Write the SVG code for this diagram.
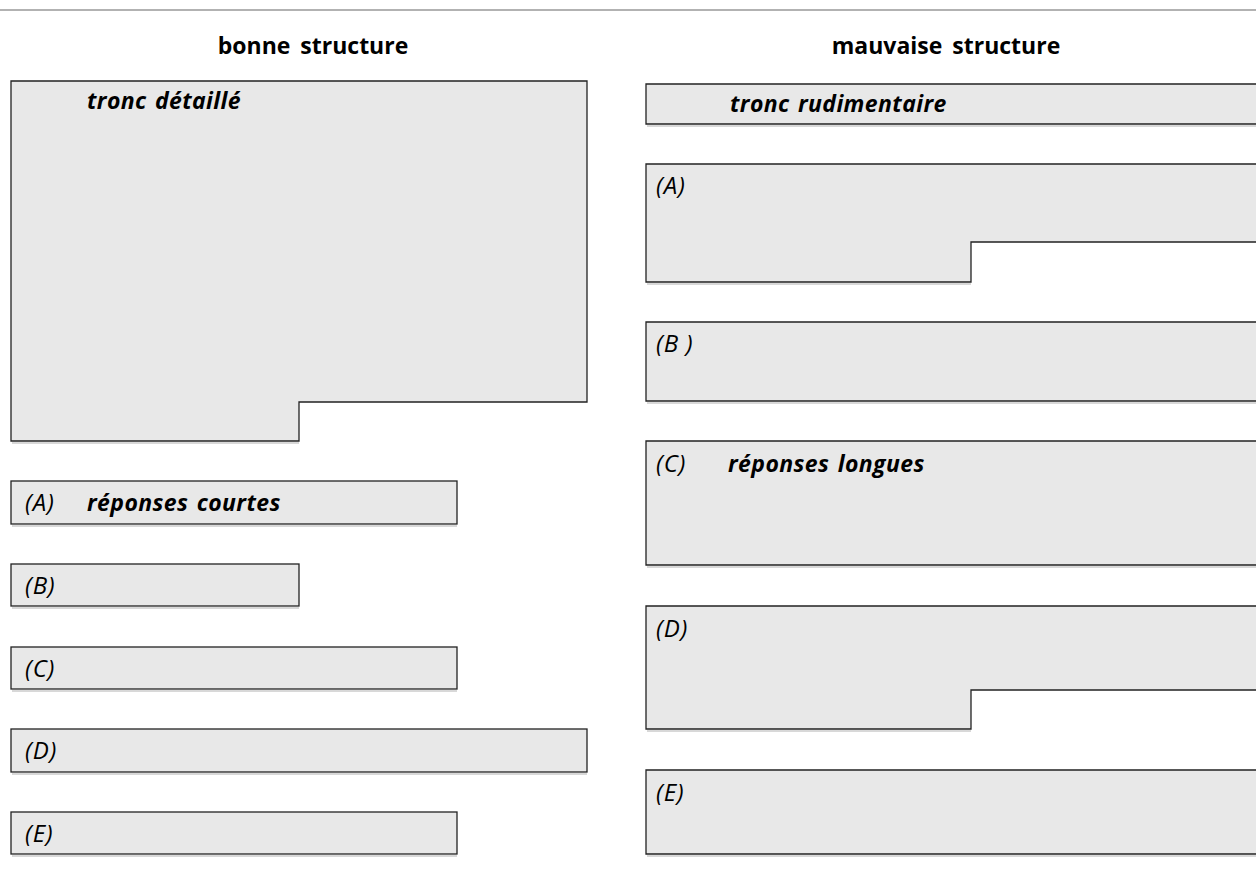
<svg xmlns="http://www.w3.org/2000/svg" width="1256" height="889" viewBox="0 0 1256 889">
<style>
.box{fill:#e8e8e8;stroke:#222;stroke-width:1.3}
.sh{fill:none;stroke:#d8d8d8;stroke-width:2}
.h{font-family:"Open Sans","Noto Sans",sans-serif;font-weight:bold;font-size:23px;fill:#000;word-spacing:4px}
.t{font-family:"Open Sans","Noto Sans",sans-serif;font-weight:bold;font-style:italic;font-size:23px;letter-spacing:0.4px;fill:#000;word-spacing:2px}
.l{font-family:"Open Sans","Noto Sans",sans-serif;font-style:italic;font-size:24px;letter-spacing:0.8px;fill:#000}
</style>
<rect width="1256" height="889" fill="#fff"/>
<line x1="0" y1="10" x2="1256" y2="10" stroke="#666" stroke-width="1.2"/>
<text class="h" x="313" y="54" text-anchor="middle">bonne structure</text>
<text class="h" x="946" y="54" text-anchor="middle">mauvaise structure</text>

<g id="left-trunk">
<path class="sh" d="M12,443 H299"/>
<path class="box" d="M11,81 H587 V402 H299 V441 H11 Z"/>
<text class="t" x="87" y="109">tronc détaillé</text>
</g>
<g id="left-A">
<path class="sh" d="M12,526 H457"/>
<rect class="box" x="11" y="481" width="446" height="43"/>
<text class="l" x="25" y="511">(A)</text>
<text class="t" x="87" y="511">réponses courtes</text>
</g>
<g id="left-B">
<path class="sh" d="M12,608 H299"/>
<rect class="box" x="11" y="564" width="288" height="42"/>
<text class="l" x="25" y="594">(B)</text>
</g>
<g id="left-C">
<path class="sh" d="M12,691 H457"/>
<rect class="box" x="11" y="647" width="446" height="42"/>
<text class="l" x="25" y="677">(C)</text>
</g>
<g id="left-D">
<path class="sh" d="M12,774 H587"/>
<rect class="box" x="11" y="729" width="576" height="43"/>
<text class="l" x="25" y="759">(D)</text>
</g>
<g id="left-E">
<path class="sh" d="M12,856 H457"/>
<rect class="box" x="11" y="812" width="446" height="42"/>
<text class="l" x="25" y="842">(E)</text>
</g>

<g id="right-trunk">
<path class="sh" d="M647,126 H1256"/>
<path class="box" d="M1258,84 H646 V124 H1258"/>
<text class="t" x="730" y="112">tronc rudimentaire</text>
</g>
<g id="right-A">
<path class="sh" d="M647,284 H971"/>
<path class="box" d="M1258,164 H646 V282 H971 V242 H1258"/>
<text class="l" x="656" y="194">(A)</text>
</g>
<g id="right-B">
<path class="sh" d="M647,403 H1256"/>
<path class="box" d="M1258,322 H646 V401 H1258"/>
<text class="l" x="656" y="352">(B )</text>
</g>
<g id="right-C">
<path class="sh" d="M647,567 H1256"/>
<path class="box" d="M1258,441 H646 V565 H1258"/>
<text class="l" x="656" y="472">(C)</text>
<text class="t" x="728" y="472">réponses longues</text>
</g>
<g id="right-D">
<path class="sh" d="M647,731 H971"/>
<path class="box" d="M1258,606 H646 V729 H971 V690 H1258"/>
<text class="l" x="656" y="637">(D)</text>
</g>
<g id="right-E">
<path class="sh" d="M647,856 H1256"/>
<path class="box" d="M1258,770 H646 V854 H1258"/>
<text class="l" x="656" y="801">(E)</text>
</g>
<g id="connectors"></g>
</svg>
